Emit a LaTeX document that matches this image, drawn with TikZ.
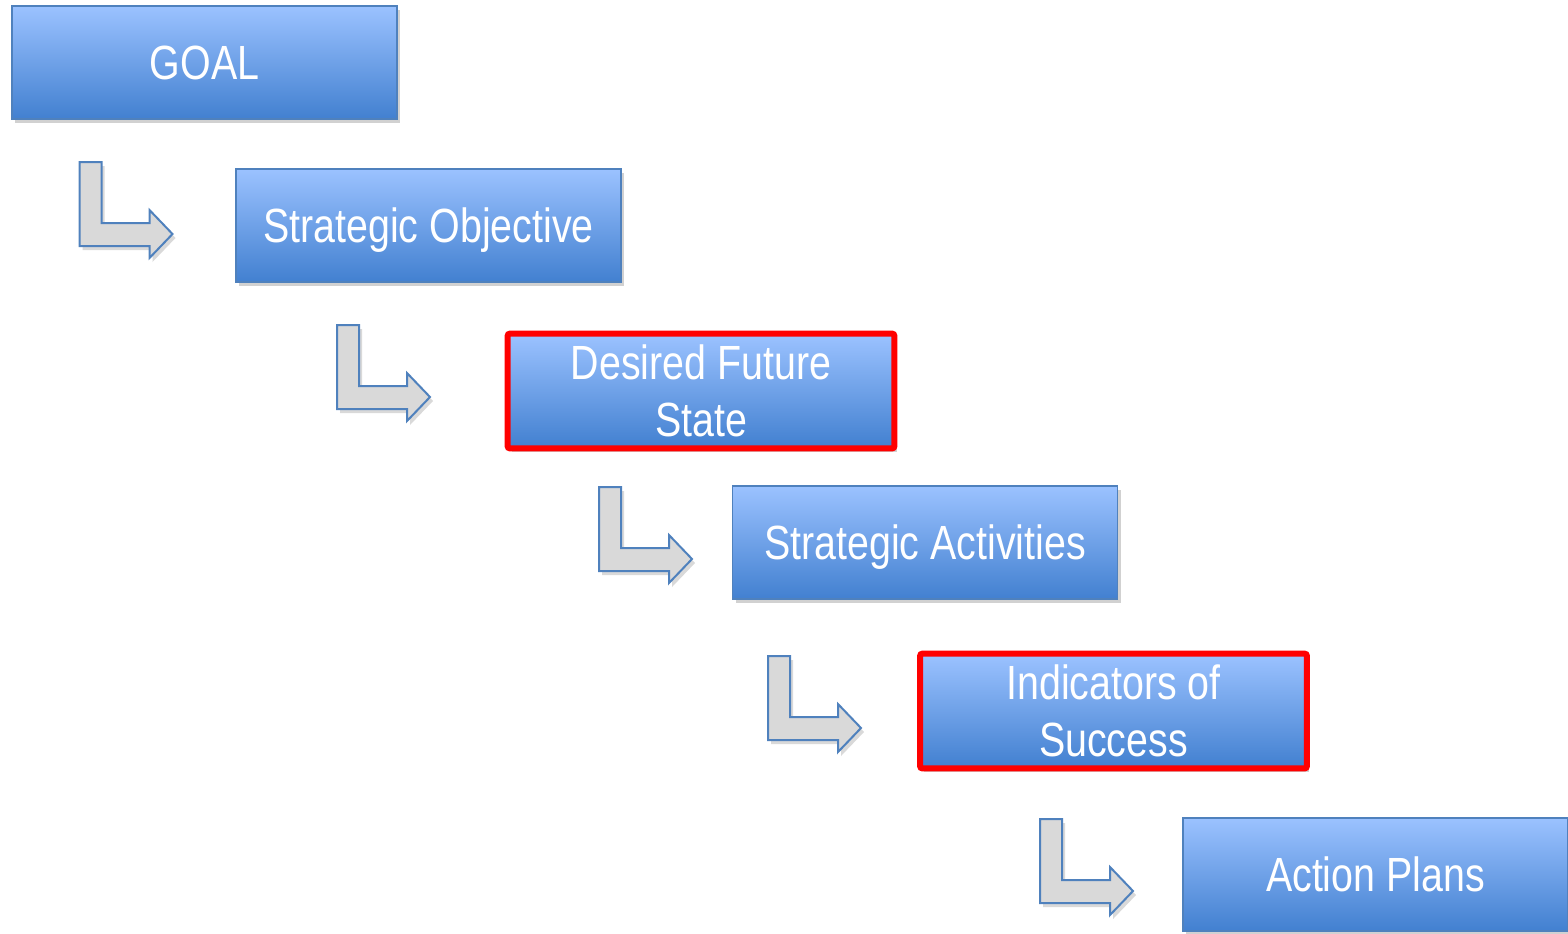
\documentclass[tikz,border=0pt]{standalone}
\usepackage{fontspec}
\setmainfont{Liberation Sans}
\newfontfamily\narrowfont[FakeStretch=0.82]{Liberation Sans}
\usetikzlibrary{shadows}
\definecolor{boxtop}{RGB}{155,194,255}
\definecolor{boxbot}{RGB}{66,128,208}
\definecolor{boxline}{RGB}{79,129,189}
\definecolor{arrfill}{RGB}{217,217,217}
\tikzset{
  x=0.5pt, y=-0.5pt,
  stepbox/.style={rectangle, draw=boxline, line width=0.8pt,
    top color=boxtop, bottom color=boxbot,
    minimum width=192.5pt, minimum height=56.5pt, inner sep=0pt,
    text=white, font=\narrowfont\fontsize{24}{28.5}\selectfont, align=center,
    drop shadow={shadow xshift=1.5pt, shadow yshift=-2pt, opacity=0.3, fill=black!60}},
  oneline/.style={text depth=0pt},
  hilite/.style={draw=red, line width=3pt, rounded corners=1pt},
  bentarrow/.style={draw=boxline, line width=1pt, fill=arrfill, line join=miter,
    drop shadow={shadow xshift=1.5pt, shadow yshift=-2pt, opacity=0.25, fill=black!60}},
  pics/lturn/.style={code={
    \path[bentarrow] (0,0) -- (22,0) -- (22,61) -- (70,61) -- (70,48) -- (93,72)
      -- (70,96) -- (70,84) -- (0,84) -- cycle;
  }}
}
\begin{document}
\begin{tikzpicture}
\useasboundingbox (0,0) rectangle (1568,933);
\node[stepbox, oneline] (goal) at (204.5,62.5) {GOAL};
\node[stepbox, oneline] (so) at (428.5,225.5) {Strategic Objective};
\node[stepbox] (dfs) at (701,391) {Desired Future\\State};
\draw[hilite] (dfs.north west) rectangle (dfs.south east);
\node[stepbox, oneline] (sa) at (925,542.5) {Strategic Activities};
\node[stepbox] (ios) at (1113.5,711) {Indicators of\\Success};
\draw[hilite] (ios.north west) rectangle (ios.south east);
\node[stepbox, oneline] (ap) at (1375.5,874.5) {Action Plans};
\pic (a1) at (79.5,162) {lturn};
\pic (a2) at (337,325) {lturn};
\pic (a3) at (599,487) {lturn};
\pic (a4) at (768,656) {lturn};
\pic (a5) at (1040,819) {lturn};
\end{tikzpicture}
\end{document}
